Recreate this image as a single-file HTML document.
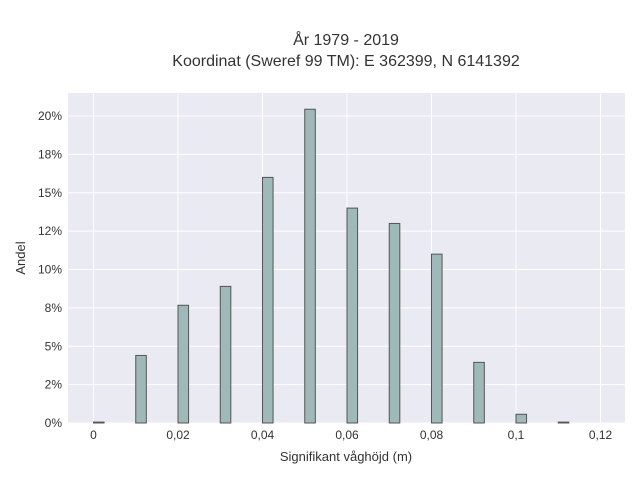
<!DOCTYPE html>
<html><head><meta charset="utf-8"><style>
body{margin:0;background:#fff;font-family:"Liberation Sans",sans-serif;}
svg text{fill:#333;font-family:"Liberation Sans",sans-serif;}
</style></head><body>
<svg id="chart" width="640" height="480">
<text x="346" y="45" font-size="16" text-anchor="middle">År 1979 - 2019</text>
<text x="346" y="66" font-size="16" text-anchor="middle">Koordinat (Sweref 99 TM): E 362399, N 6141392</text>
<rect x="68" y="93" width="557" height="330" fill="#eaeaf2"/>
<g id="grid"></g><g id="bars"></g><g id="ticks"></g>
<text x="346" y="461" font-size="13" text-anchor="middle">Signifikant våghöjd (m)</text>
<text transform="translate(25,258) rotate(-90)" font-size="13" text-anchor="middle">Andel</text>
</svg>
<script>
const binStarts=[0,0.01,0.02,0.03,0.04,0.05,0.06,0.07,0.08,0.09,0.10,0.11];
const shares=[0.06,4.4,7.67,8.9,16.0,20.44,14.0,13.0,11.0,3.95,0.57,0.06];
const xTicks=[0,0.02,0.04,0.06,0.08,0.1,0.12];
const xTickLabels=["0","0,02","0,04","0,06","0,08","0,1","0,12"];
const yTicks=[0,2.5,5,7.5,10,12.5,15,17.5,20];
const yTickLabels=["0%","2%","5%","8%","10%","12%","15%","18%","20%"];
const binWidth=0.0025;
const NS="http://www.w3.org/2000/svg";
const X=v=>93.5+v*4225;
const Y=v=>423-v*15.35;
const grid=document.getElementById('grid'),bars=document.getElementById('bars'),ticks=document.getElementById('ticks');
function mk(tag,attrs,parent){const e=document.createElementNS(NS,tag);for(const k in attrs)e.setAttribute(k,attrs[k]);parent.appendChild(e);return e;}
xTicks.forEach((t,i)=>{
  const l=mk('line',{x1:X(t),x2:X(t),y1:93,y2:423,stroke:'#fff','stroke-width':1},grid);
  
  
  const tx=mk('text',{x:X(t),y:439,'font-size':12,'text-anchor':'middle'},ticks);
  tx.textContent=xTickLabels[i];
  
  
});
yTicks.forEach((t,i)=>{
  const l=mk('line',{x1:68,x2:625,y1:Y(t),y2:Y(t),stroke:'#fff','stroke-width':1},grid);
  
  
  const tx=mk('text',{x:62,y:Y(t)+4,'font-size':12,'text-anchor':'end'},ticks);
  tx.textContent=yTickLabels[i];
  
  
});
binStarts.forEach((b,i)=>{
  const x0=X(b),x1=X(b+binWidth),y=Y(shares[i]);
  const r=mk('rect',{x:x0,y:y,width:x1-x0,height:423-y,fill:'#9fb8b8',stroke:'#555','stroke-width':1},bars);
  
  
});
</script>
</body></html>
